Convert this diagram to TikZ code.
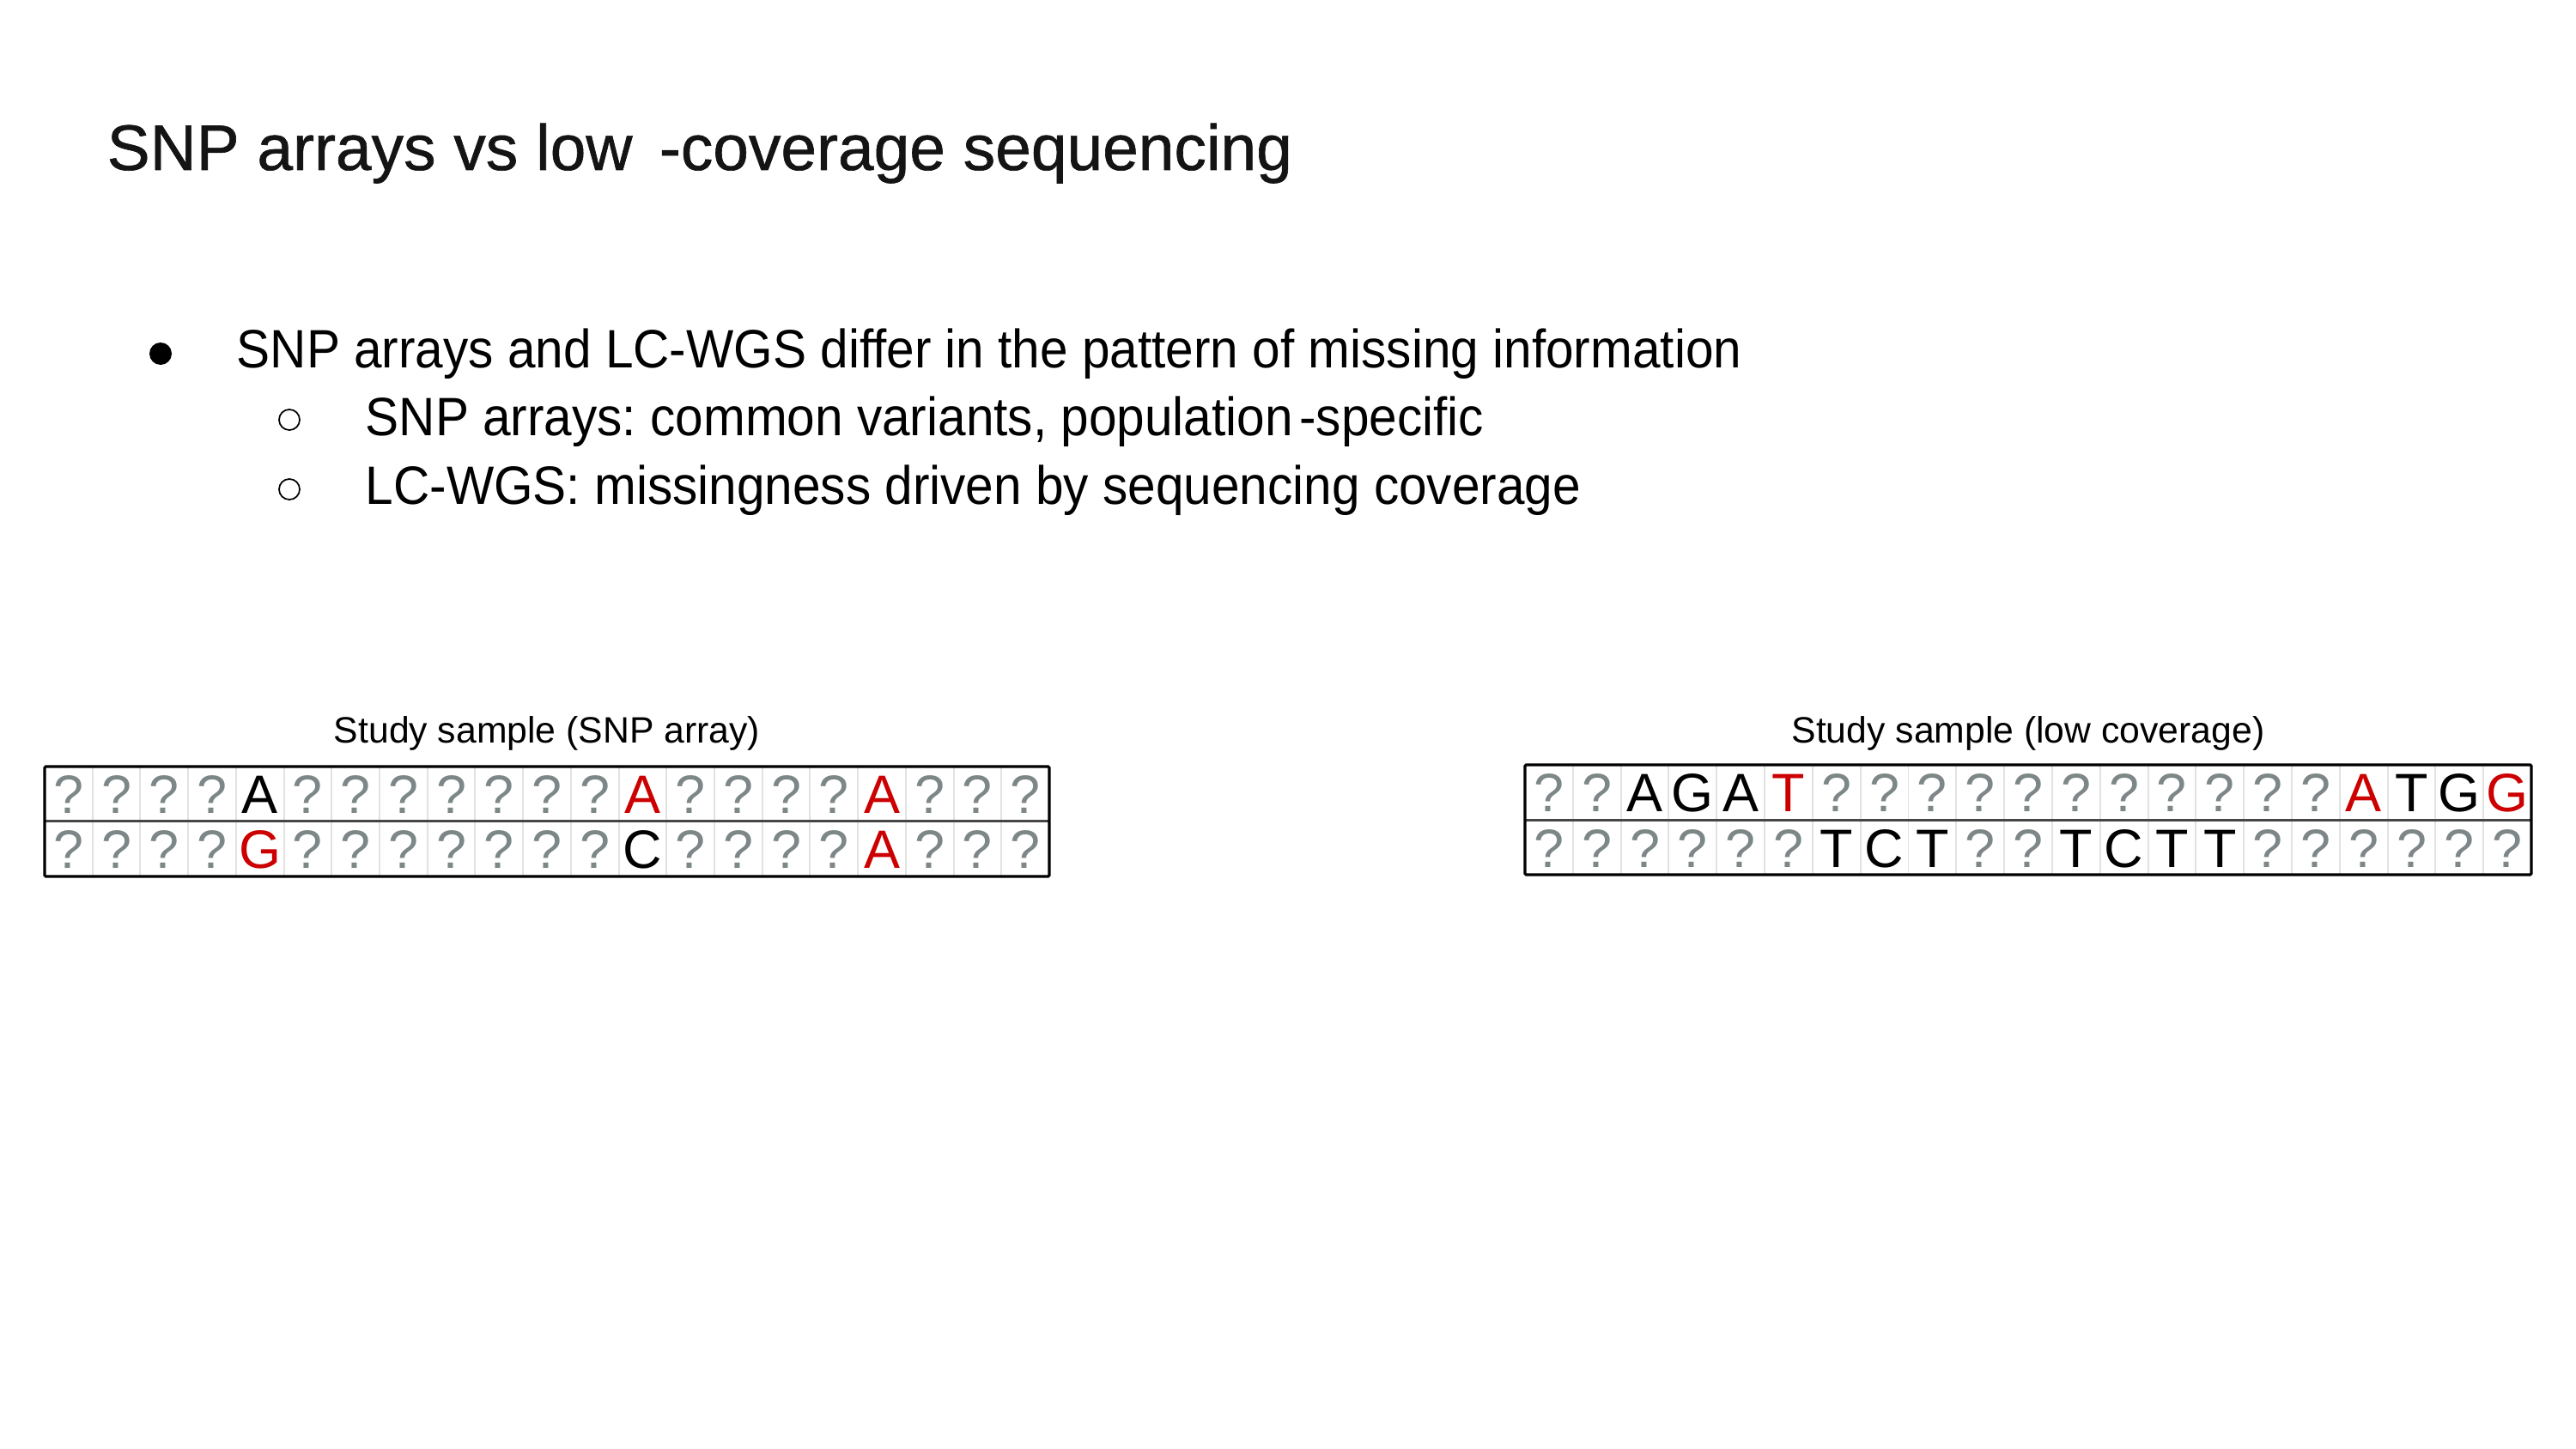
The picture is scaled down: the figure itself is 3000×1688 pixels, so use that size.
\documentclass[tikz,border=0pt]{standalone}
\usepackage{fontspec}
\setmainfont{Liberation Sans}
\newfontfamily\bodyfont[FakeStretch=0.93]{Liberation Sans}
\newfontfamily\headfont[FakeBold=0.8]{Liberation Sans}
\frenchspacing
\definecolor{cq}{RGB}{125,135,135}
\definecolor{ck}{RGB}{0,0,0}
\definecolor{cr}{RGB}{204,0,0}
\definecolor{sepgray}{RGB}{226,226,226}
\definecolor{midgray}{RGB}{70,70,70}
\definecolor{titleink}{RGB}{20,20,20}

% one row of a genotype strip: x of left edge, cell width, baseline y, name prefix, cells
\newcommand\seqrow[5]{%
  \foreach \ch/\col [count=\i] in {#5}{
    \node[basech, text=\col] (#4-\i) at ({#1+(\i-0.5)*#2},#3) {\ch};
  }}
% thin cell separators of a strip: left x, cell width, top y, bottom y
\newcommand\seqgrid[4]{%
  \foreach \i in {1,...,20}{
    \draw[cellsep] ({#1+\i*#2},#3) -- ({#1+\i*#2},#4);
  }}

\begin{document}
\begin{tikzpicture}[x=0.01cm,y=-0.01cm,
  titletext/.style={anchor=base west, inner sep=0, text=titleink, font=\headfont\fontsize{21.3}{26}\selectfont},
  bodytext/.style={anchor=base west, inner sep=0, font=\bodyfont\fontsize{17.9}{21}\selectfont},
  striplabel/.style={anchor=base, inner sep=0, font=\fontsize{12.15}{14}\selectfont},
  basech/.style={anchor=base, inner sep=0, font=\fontsize{17.9}{21}\selectfont},
  cellsep/.style={draw=sepgray, line width=0.55pt},
  midline/.style={draw=midgray, line width=0.85pt},
  frame/.style={draw=black, line width=0.9pt, rounded corners=0.4pt},
  dotbullet/.style={circle, fill=black, inner sep=0, minimum size=26*0.01cm},
  ringbullet/.style={circle, draw=black, line width=0.5pt, inner sep=0, minimum size=24*0.01cm}]

\useasboundingbox (0,0) rectangle (3000,1688);

% heading
\node[titletext] (title) at (124,198) {SNP arrays vs low\hspace{0.42em}-coverage sequencing};

% bullet list
\node[dotbullet] (b1) at (187,412) {};
\node[bodytext] (t1) at (275,428) {SNP arrays and LC-WGS differ in the pattern of missing information};
\node[ringbullet] (b2) at (337,489) {};
\node[bodytext] (t2) at (425,507) {SNP arrays: common variants, population\hspace{0.12em}-specific};
\node[ringbullet] (b3) at (337,570) {};
\node[bodytext] (t3) at (425,587) {LC-WGS: missingness driven by sequencing coverage};

% ---- SNP array strip ----
\node[striplabel] (lab1) at (637,865) {Study sample (SNP array)};
\seqgrid{52}{55.714}{893}{1021}
\draw[midline] (52,956) -- (1222,956);
\seqrow{52}{55.714}{947}{snpA}{?/cq,?/cq,?/cq,?/cq,A/ck,?/cq,?/cq,?/cq,?/cq,?/cq,?/cq,?/cq,A/cr,?/cq,?/cq,?/cq,?/cq,A/cr,?/cq,?/cq,?/cq}
\seqrow{52}{55.714}{1011}{snpB}{?/cq,?/cq,?/cq,?/cq,G/cr,?/cq,?/cq,?/cq,?/cq,?/cq,?/cq,?/cq,C/ck,?/cq,?/cq,?/cq,?/cq,A/cr,?/cq,?/cq,?/cq}
\draw[frame] (52,893) rectangle (1222,1021);

% ---- low-coverage strip ----
\node[striplabel] (lab2) at (2362,865) {Study sample (low coverage)};
\seqgrid{1776}{55.81}{891}{1019}
\draw[midline] (1776,955) -- (2948,955);
\seqrow{1776}{55.81}{945}{lcA}{?/cq,?/cq,A/ck,G/ck,A/ck,T/cr,?/cq,?/cq,?/cq,?/cq,?/cq,?/cq,?/cq,?/cq,?/cq,?/cq,?/cq,A/cr,T/ck,G/ck,G/cr}
\seqrow{1776}{55.81}{1010}{lcB}{?/cq,?/cq,?/cq,?/cq,?/cq,?/cq,T/ck,C/ck,T/ck,?/cq,?/cq,T/ck,C/ck,T/ck,T/ck,?/cq,?/cq,?/cq,?/cq,?/cq,?/cq}
\draw[frame] (1776,891) rectangle (2948,1019);

\end{tikzpicture}
\end{document}
